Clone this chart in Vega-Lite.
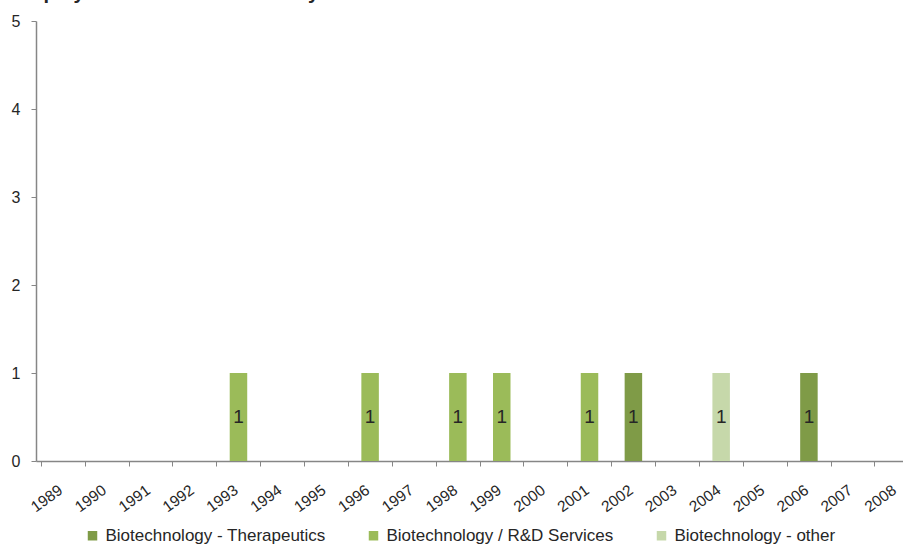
{
  "$schema": "https://vega.github.io/schema/vega-lite/v6.json",
  "width": 867,
  "height": 440,
  "autosize": {"type": "none"},
  "padding": {"left": 36, "top": 21, "right": 0, "bottom": 86},
  "background": "white",
  "title": {
    "text": "Deployments of Investments by Year",
    "anchor": "start",
    "frame": "group",
    "dx": -18,
    "dy": 11,
    "offset": 5,
    "baseline": "alphabetic",
    "font": "Liberation Sans",
    "fontSize": 20,
    "fontWeight": "bold",
    "color": "#262626"
  },
  "config": {"view": {"stroke": null}, "font": "Liberation Sans"},
  "data": {
    "values": [
      {"year": 1993, "sector": "Biotechnology / R&D Services", "count": 1},
      {"year": 1996, "sector": "Biotechnology / R&D Services", "count": 1},
      {"year": 1998, "sector": "Biotechnology / R&D Services", "count": 1},
      {"year": 1999, "sector": "Biotechnology / R&D Services", "count": 1},
      {"year": 2001, "sector": "Biotechnology / R&D Services", "count": 1},
      {"year": 2002, "sector": "Biotechnology - Therapeutics", "count": 1},
      {"year": 2004, "sector": "Biotechnology - other", "count": 1},
      {"year": 2006, "sector": "Biotechnology - Therapeutics", "count": 1}
    ]
  },
  "encoding": {
    "x": {
      "field": "year",
      "type": "quantitative",
      "scale": {"domain": [1988.5, 2008.03], "nice": false, "zero": false},
      "axis": {
        "title": null,
        "values": [1989, 1990, 1991, 1992, 1993, 1994, 1995, 1996, 1997, 1998, 1999, 2000, 2001, 2002, 2003, 2004, 2005, 2006, 2007, 2008],
        "format": "d",
        "grid": false,
        "labelAngle": -36,
        "labelAlign": "right",
        "labelBaseline": "middle",
        "labelPadding": 22,
        "tickOffset": -22.2,
        "labelOffset": 19.5,
        "tickSize": 5,
        "tickColor": "#868686",
        "domainColor": "#868686",
        "domainWidth": 1.5,
        "labelFontSize": 15.5,
        "labelColor": "#262626",
        "labelFlush": false,
        "labelOverlap": false
      }
    },
    "y": {
      "field": "count",
      "type": "quantitative",
      "scale": {"domain": [0, 5], "nice": false},
      "axis": {
        "title": null,
        "values": [0, 1, 2, 3, 4, 5],
        "grid": false,
        "tickSize": 5,
        "labelPadding": 11,
        "labelFontSize": 16,
        "labelColor": "#262626",
        "tickColor": "#868686",
        "domainColor": "#868686",
        "domainWidth": 1.5
      }
    }
  },
  "layer": [
    {
      "mark": {"type": "bar", "orient": "vertical", "width": 17.5},
      "encoding": {
        "color": {
          "field": "sector",
          "type": "nominal",
          "scale": {
            "domain": ["Biotechnology - Therapeutics", "Biotechnology / R&D Services", "Biotechnology - other"],
            "range": ["#7F9B47", "#9BBB59", "#C6D8AA"]
          },
          "legend": {
            "orient": "none",
            "legendX": 48,
            "legendY": 506,
            "direction": "horizontal",
            "title": null,
            "symbolType": "square",
            "symbolSize": 90,
            "symbolStrokeWidth": 0,
            "labelFontSize": 17,
            "labelColor": "#262626",
            "labelLimit": 0,
            "columnPadding": 39,
            "labelOffset": 4.5
          }
        }
      }
    },
    {
      "mark": {"type": "text", "dy": 44, "baseline": "middle", "fontSize": 19, "color": "#262626"},
      "encoding": {
        "text": {"field": "count", "type": "quantitative"}
      }
    }
  ]
}
